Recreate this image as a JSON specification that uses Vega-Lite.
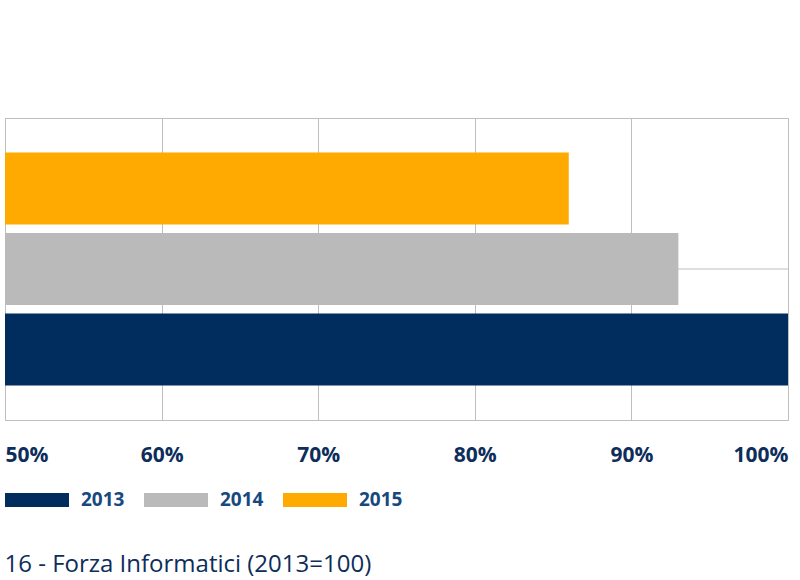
{
  "$schema": "https://vega.github.io/schema/vega-lite/v6.json",
  "width": 783,
  "height": 302,
  "padding": {"left": 4, "top": 118, "right": 13, "bottom": 0},
  "background": "white",
  "title": {
    "text": "16 - Forza Informatici (2013=100)",
    "orient": "bottom",
    "anchor": "start",
    "font": "Open Sans",
    "fontSize": 24,
    "fontWeight": "normal",
    "color": "#0d2d5a",
    "offset": 43
  },
  "config": {
    "view": {"stroke": "#bfbfbf", "strokeWidth": 1},
    "font": "Open Sans"
  },
  "layer": [
    {
      "data": {"values": [{"year": "2014", "start": 0.5, "end": 1.0}]},
      "mark": {"type": "rule", "color": "#bfbfbf", "strokeWidth": 1},
      "encoding": {
        "y": {"field": "year", "type": "nominal", "scale": {"domain": ["2015", "2014", "2013"], "paddingInner": 0.106, "paddingOuter": 0.428}, "axis": null},
        "x": {
          "field": "start",
          "type": "quantitative",
          "scale": {"domain": [0.5, 1.0], "zero": false, "nice": false},
          "axis": {
            "title": null,
            "format": ".0%",
            "values": [0.5, 0.6, 0.7, 0.8, 0.9, 1.0],
            "domain": false,
            "ticks": false,
            "grid": true,
            "gridColor": "#bfbfbf",
            "gridWidth": 1,
            "labelFont": "Open Sans",
            "labelFontSize": 21,
            "labelFontWeight": "bold",
            "labelColor": "#0d2d5a",
            "labelPadding": 24,
            "labelFlush": true
          }
        },
        "x2": {"field": "end"}
      }
    },
    {
      "data": {
        "values": [
          {"year": "2015", "value": 0.86},
          {"year": "2014", "value": 0.93},
          {"year": "2013", "value": 1.0}
        ]
      },
      "mark": {"type": "bar"},
      "encoding": {
        "y": {
          "field": "year",
          "type": "nominal",
          "scale": {"domain": ["2015", "2014", "2013"], "paddingInner": 0.106, "paddingOuter": 0.428},
          "axis": null
        },
        "x": {
          "field": "value",
          "type": "quantitative",
          "scale": {"domain": [0.5, 1.0], "zero": false, "nice": false},
          "axis": {
            "title": null,
            "format": ".0%",
            "values": [0.5, 0.6, 0.7, 0.8, 0.9, 1.0],
            "domain": false,
            "ticks": false,
            "grid": true,
            "gridColor": "#bfbfbf",
            "gridWidth": 1,
            "labelFont": "Open Sans",
            "labelFontSize": 21,
            "labelFontWeight": "bold",
            "labelColor": "#0d2d5a",
            "labelPadding": 24,
            "labelFlush": true
          }
        },
        "x2": {"datum": 0.5},
        "color": {
          "field": "year",
          "type": "nominal",
          "scale": {"domain": ["2013", "2014", "2015"], "range": ["#002d5e", "#bababa", "#ffaa00"]},
          "legend": {
            "title": null,
            "orient": "bottom",
            "direction": "horizontal",
            "offset": 3,
            "symbolType": "M-1,-0.21875H1V0.21875H-1Z",
            "symbolSize": 4096,
            "symbolStrokeWidth": 0,
            "labelFont": "Open Sans",
            "labelFontSize": 19,
            "labelFontWeight": "bold",
            "labelColor": "#17497f",
            "labelOffset": 12,
            "columnPadding": 19
          }
        }
      }
    }
  ]
}
